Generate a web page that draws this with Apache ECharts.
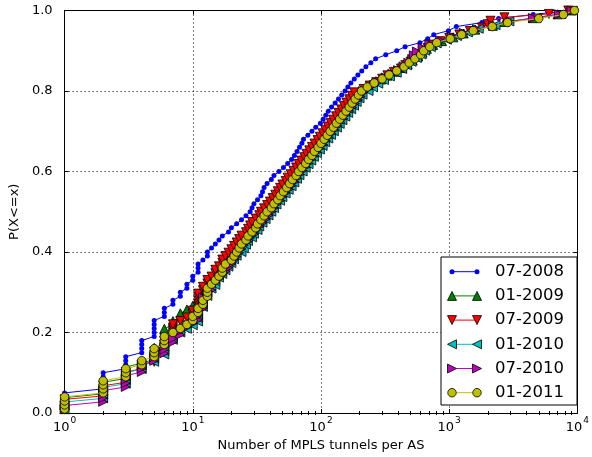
<!DOCTYPE html>
<html>
<head>
<meta charset="utf-8">
<script src="https://cdn.jsdelivr.net/npm/echarts@6/dist/echarts.min.js"></script>
<style>
html,body{margin:0;padding:0;background:#fff;}
#chart{width:592px;height:457px;}
</style>
</head>
<body>
<div id="chart"></div>
<script>
const seriesNames = ['07-2008','01-2009','07-2009','01-2010','07-2010','01-2011'];

const tunnels_07_2008 = [1,1,1,1,1, 2,2,2,2,2, 3,3,3,3, 4,4,4,4, 5,5,5,5,5, 6,6,6, 7,7, 8,8, 9,9, 10,10, 11,11,11, 12, 13,13,
14,15,16,17,19,20,22,24,26,28,
29,30,32,34,35,36,38,41,43,47,
51,55,59,62,65,68,71,73,79,85,
91,99,104,109,114,121,129,137,145,154,
162,171,182,194,208,224,245,267,320,390,
453,591,680,758,987,1137,1800,2430,4515,8700];

const tunnels_01_2009 = [1,1,1,1, 2,2,2,2, 3,3,3,3, 4, 5,5,5,5, 6,6,6,6,6, 7,7, 8,8, 9, 10,
11,11,12,12,13,14,14,15,16,17,
18,19,20,21,22,23,24,26,27,29,
30,32,34,35,37,39,42,44,46,49,
52,54,57,61,64,67,71,75,79,84,
88,93,98,104,109,115,121,128,135,143,
150,159,167,177,186,197,
225,250,295,330,380,430,475,520,575,620,670,750,880,1080,1300,1600,2200,2700,4500,7000,9000];

const tunnels_07_2009 = [1,1,1,1, 2,2,2,2, 3,3,3,3, 4,4, 5,5,5,5, 6,6,6,6, 7,7,7,7, 8, 9, 10,10,
11,11,11,11,11,12,12,13,13,14,
15,15,16,17,17,18,19,20,21,22,
23,24,26,27,28,29,31,33,34,36,
38,40,42,44,46,48,50,53,55,58,
61,64,67,70,74,77,81,85,89,94,
98,103,108,113,119,124,131,137,144,151,
158,166,174,182,
215,240,270,300,330,370,420,455,500,540,590,620,680,750,860,1000,1200,1450,1800,2000,2100,2700,6000,8500];

const tunnels_01_2010 = [1,1,1, 2,2,2,2, 3,3,3,3, 4,4, 5,5, 6,6,6,6, 7,7, 8, 9, 10,
11,11,11,11,12,12,12,13,13,14,
15,15,16,17,18,19,20,21,22,24,
25,26,27,29,30,32,33,35,37,39,
41,43,45,48,50,53,56,59,62,65,
68,72,76,80,84,88,93,98,103,108,
114,120,126,133,140,147,155,163,172,181,
190,200,211,
235,255,280,310,345,390,430,470,510,560,610,650,720,800,960,1150,1400,1700,2300,2950,4800,7500,9200];

const tunnels_07_2010 = [1,1, 2,2,2,2, 3,3,3,3, 4,4,4, 5,5, 6,6,6, 7,7, 8,8, 9, 10,
11,11,11,12,12,12,12,13,14,14,
15,16,17,18,19,20,21,22,23,24,
25,27,28,30,31,33,35,37,39,41,
43,45,48,50,53,56,59,62,65,68,
72,76,80,84,89,93,98,104,109,115,
121,128,135,142,149,157,166,175,184,194,
204,
215,235,260,290,320,360,400,440,480,515,530,560,620,700,850,1050,1300,1650,2200,3000,4500,7200,9000];

const tunnels_01_2011 = [1,1,1,1, 2,2,2,2, 3,3,3, 4,4, 5,5,5, 6,6,6, 7, 8, 9, 10,10, 11,11, 12,12, 13,13,
13,14,15,16,17,17,18,20,21,22,
23,24,26,27,29,31,32,34,36,38,
41,43,46,48,51,54,57,60,64,67,
71,76,80,85,89,95,100,106,112,118,
125,132,140,148,157,166,175,185,196,207,
230,260,300,340,390,445,488,540,600,633,
705,800,1020,1250,1540,2170,2850,5000,7780,9500];

// Tick labels
const xTickExponents = [0,1,2,3,4];
const yTickLabels = ['0.0','0.2','0.4','0.6','0.8','1.0'];
const xMinorTicks = [2,3,4,5,6,7,8,9,20,30,40,50,60,70,80,90,200,300,400,500,600,700,800,900,2000,3000,4000,5000,6000,7000,8000,9000];

function ecdf(samples){
  const n = samples.length;
  return samples.map((v,i)=>[v,(i+1)/n]);
}

const FONT = 'DejaVu Sans';
const styles = [
  {data: tunnels_07_2008, color:'#0000ff', symbol:'circle', size:5, rot:0, border:0},
  {data: tunnels_01_2009, color:'#008000', symbol:'triangle', size:9, rot:0, border:1},
  {data: tunnels_07_2009, color:'#ff0000', symbol:'triangle', size:9, rot:180, border:1},
  {data: tunnels_01_2010, color:'#00bfbf', symbol:'triangle', size:9, rot:90, border:1},
  {data: tunnels_07_2010, color:'#bf00bf', symbol:'triangle', size:9, rot:-90, border:1},
  {data: tunnels_01_2011, color:'#bfbf00', symbol:'circle', size:8.5, rot:0, border:1}
];

const series = styles.map((s,i)=>({
  name: seriesNames[i],
  type: 'line',
  xAxisIndex: 0, yAxisIndex: 0,
  data: ecdf(s.data),
  symbol: s.symbol,
  symbolSize: s.size,
  symbolRotate: s.rot,
  showAllSymbol: true,
  color: s.color,
  lineStyle: {color: s.color, width: 1},
  itemStyle: {color: s.color, borderColor: '#000', borderWidth: s.border*0.8, opacity: 1},
  emphasis: {disabled: true},
  clip: false,
  z: 2 + i
}));

// Legend drawn as a boxed list: a short line with a marker at each end, then the label
const LEG = {left: 441, top: 257, width: 136, height: 148, row0: 14.7, rowStep: 24.2, x0: 452, x1: 477, textX: 495};
function markerShape(s, cx, cy){
  const style = {fill: s.color, stroke: s.border ? '#000' : s.color, lineWidth: s.border ? 0.8 : 0};
  if (s.symbol === 'circle') {
    return {type: 'circle', shape: {cx: cx, cy: cy, r: s.size/2}, style: style, z: 101};
  }
  const h = s.size/2;
  const base = [[0,-h],[h,h],[-h,h]];
  const a = -s.rot*Math.PI/180;
  const pts = base.map(([x,y]) => [cx + x*Math.cos(a) - y*Math.sin(a), cy + x*Math.sin(a) + y*Math.cos(a)]);
  return {type: 'polygon', shape: {points: pts}, style: style, z: 101};
}
const legendElements = [{
  type: 'rect', shape: {x: LEG.left, y: LEG.top, width: LEG.width, height: LEG.height},
  style: {fill: '#fff', stroke: '#000', lineWidth: 1}, z: 100
}];
styles.forEach((s,i)=>{
  const cy = LEG.top + LEG.row0 + i*LEG.rowStep;
  legendElements.push({type: 'line', shape: {x1: LEG.x0, y1: cy, x2: LEG.x1, y2: cy}, style: {stroke: s.color, lineWidth: 1}, z: 101});
  legendElements.push(markerShape(s, LEG.x0, cy));
  legendElements.push(markerShape(s, LEG.x1, cy));
  legendElements.push({type: 'text', x: LEG.textX, y: cy, style: {text: seriesNames[i], fill: '#000', font: '16.5px "DejaVu Sans"', textVerticalAlign: 'middle', verticalAlign: 'middle', textAlign: 'left'}, z: 101});
});

const black = '#000';
const option = {
  animation: false,
  backgroundColor: '#fff',
  textStyle: {fontFamily: FONT},
  grid: {left: 57, right: 14, top: 10.5, bottom: 44, containLabel: false},
  graphic: {elements: legendElements},
  xAxis: [
    {
      type: 'log', logBase: 10, min: 1, max: 10000, position: 'bottom',
      axisLine: {show: true, onZero: false, lineStyle: {color: black, width: 1}},
      axisTick: {show: true, inside: true, length: 4, lineStyle: {color: black}},
      axisLabel: {
        color: black, margin: 3,
        formatter: (v) => {
          const e = Math.round(Math.log10(v));
          const idx = xTickExponents.indexOf(e);
          return '{b|10}{s|' + (idx >= 0 ? xTickExponents[idx] : e) + '}';
        },
        rich: {
          b: {fontFamily: FONT, fontSize: 13, color: black, lineHeight: 18, verticalAlign: 'bottom'},
          s: {fontFamily: FONT, fontSize: 9, color: black, lineHeight: 18, verticalAlign: 'top', padding: [0,0,0,1]}
        }
      },
      splitLine: {show: true, lineStyle: {color: black, type: [1,3], width: 1}},
      name: 'Number of MPLS tunnels per AS',
      nameLocation: 'middle', nameGap: 24,
      nameTextStyle: {fontFamily: FONT, fontSize: 13, color: black}
    },
    {
      type: 'log', logBase: 10, min: 1, max: 10000, position: 'bottom',
      axisLine: {show: false},
      axisTick: {show: true, inside: true, length: 2, customValues: xMinorTicks, lineStyle: {color: black}},
      axisLabel: {show: false}, splitLine: {show: false}
    },
    {
      type: 'log', logBase: 10, min: 1, max: 10000, position: 'top',
      axisLine: {show: true, onZero: false, lineStyle: {color: black, width: 1}},
      axisTick: {show: true, inside: true, length: 4, lineStyle: {color: black}},
      axisLabel: {show: false}, splitLine: {show: false}
    },
    {
      type: 'log', logBase: 10, min: 1, max: 10000, position: 'top',
      axisLine: {show: false},
      axisTick: {show: true, inside: true, length: 2, customValues: xMinorTicks, lineStyle: {color: black}},
      axisLabel: {show: false}, splitLine: {show: false}
    }
  ],
  yAxis: [
    {
      type: 'value', min: 0, max: 1, interval: 0.2, position: 'left',
      axisLine: {show: true, onZero: false, lineStyle: {color: black, width: 1}},
      axisTick: {show: true, inside: true, length: 4, lineStyle: {color: black}},
      axisLabel: {
        color: black, fontFamily: FONT, fontSize: 13, margin: 12,
        formatter: (v) => yTickLabels[Math.round(v/0.2)]
      },
      splitLine: {show: true, lineStyle: {color: black, type: [1,3], width: 1}},
      name: 'P(X<=x)', nameLocation: 'middle', nameGap: 40, nameRotate: 90,
      nameTextStyle: {fontFamily: FONT, fontSize: 13, color: black}
    },
    {
      type: 'value', min: 0, max: 1, interval: 0.2, position: 'right',
      axisLine: {show: true, onZero: false, lineStyle: {color: black, width: 1}},
      axisTick: {show: true, inside: true, length: 4, lineStyle: {color: black}},
      axisLabel: {show: false}, splitLine: {show: false}
    }
  ],
  series: series
};

const chart = echarts.init(document.getElementById('chart'), null, {renderer: 'canvas'});
chart.setOption(option);
</script>
</body>
</html>
